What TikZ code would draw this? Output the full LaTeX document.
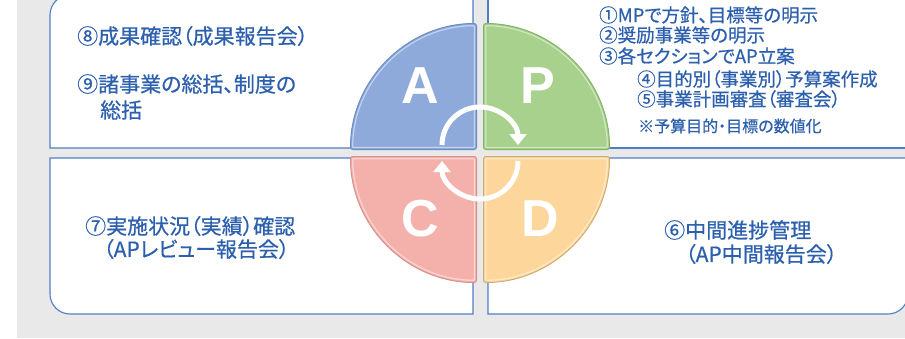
\documentclass[tikz,border=0pt]{standalone}
\usepackage{fontspec}
\newfontfamily\jpfont[RawFeature={+palt},FakeBold=0.6]{Noto Sans CJK JP}
\newfontfamily\latfont{Liberation Sans}
\usetikzlibrary{arrows.meta}
\definecolor{bgc}{HTML}{E9E9E9}
\definecolor{boxline}{HTML}{4F7EC6}
\definecolor{txt}{HTML}{2C60AE}
\definecolor{qA}{HTML}{8EAADB}\definecolor{qAd}{HTML}{6C8CC4}
\definecolor{qP}{HTML}{A8D18D}\definecolor{qPd}{HTML}{86B466}
\definecolor{qC}{HTML}{F4B1AC}\definecolor{qCd}{HTML}{D8918C}
\definecolor{qD}{HTML}{FCD69B}\definecolor{qDd}{HTML}{D2AC70}
\newcommand\myquad[3]{%
  \fill[#2,rounded corners=2.5pt] #1;
  \begin{scope}
    \clip[rounded corners=2.5pt] #1;
    \draw[#2!50!white,line width=5.5pt,rounded corners=2.5pt] #1;
    \draw[#2,line width=3pt,rounded corners=2.5pt] #1;
  \end{scope}
  \draw[#3,line width=1pt,rounded corners=2.5pt] #1;
}
\begin{document}
\begin{tikzpicture}[x=1pt,y=-1pt,
  panel/.style={draw=boxline,line width=1.1pt,fill=white},
  jtext/.style={anchor=west,inner sep=0pt,text=txt,font=\jpfont\fontsize{21}{25}\selectfont},
  jtr/.style={anchor=west,inner sep=0pt,text=txt,font=\jpfont\fontsize{18.5}{22}\selectfont},
  jnote/.style={anchor=west,inner sep=0pt,text=txt,font=\jpfont\fontsize{16}{19}\selectfont},
  letter/.style={text=white,inner sep=0pt,font=\latfont\bfseries\fontsize{52}{60}\selectfont},
  cyc/.style={draw=white,line width=5pt,-{Triangle[width=17pt,length=11pt]}}
]
\useasboundingbox (0,0) rectangle (905,338);
\clip (0,0) rectangle (905,338);
\fill[bgc] (17,0) rectangle (905,338);
% panels
\draw[panel] (473,148) -- (50,148) -- (50,15) arc[start angle=180,end angle=270,radius=20] -- (473,-5) -- cycle;
\draw[panel] (488,148) -- (488,-5) -- (910,-5) -- (910,148) -- cycle;
\draw[panel] (473,158) -- (50,158) -- (50,294) arc[start angle=180,end angle=90,radius=20] -- (473,314) -- cycle;
\draw[panel] (488,158) -- (488,314) -- (888,314) arc[start angle=90,end angle=0,radius=20] -- (908,158) -- cycle;
% quadrants
\myquad{(476.5,149.5) -- (350.5,149.5) arc[start angle=180,end angle=270,radius=126] -- cycle}{qA}{qAd}
\myquad{(483.5,149.5) -- (483.5,23.5) arc[start angle=270,end angle=360,radius=126] -- cycle}{qP}{qPd}
\myquad{(483.5,156.5) -- (609.5,156.5) arc[start angle=0,end angle=90,radius=126] -- cycle}{qD}{qDd}
\myquad{(476.5,156.5) -- (476.5,282.5) arc[start angle=90,end angle=180,radius=126] -- cycle}{qC}{qCd}
% letters
\node[letter] (lA) at (420,86) {A};
\node[letter] (lP) at (538,86) {P};
\node[letter] (lC) at (420,219) {C};
\node[letter] (lD) at (540,219) {D};
% cycle arrows
\coordinate (u0) at (442,145);
\coordinate (d0) at (518,161);
\draw[cyc] (u0) arc[start angle=180,end angle=360,radius=38];
\draw[cyc] (d0) arc[start angle=0,end angle=180,radius=38];
% texts
\node[jtext] (t8) at (77,36) {⑧成果確認（成果報告会）};
\node[jtext] (t9) at (77,84) {⑨諸事業の総括、制度の};
\node[jtext] (t9b) at (100,110) {総括};
\node[jtr] (t1) at (599,15) {①MPで方針、目標等の明示};
\node[jtr] (t2) at (599,35) {②奨励事業等の明示};
\node[jtr] (t3) at (599,56) {③各セクションでAP立案};
\node[jtr] (t4) at (637,79) {④目的別（事業別）予算案作成};
\node[jtr] (t5) at (637,99) {⑤事業計画審査（審査会）};
\node[jnote] (tn) at (638,126) {※予算目的・目標の数値化};
\node[jtext] (t7) at (85,226) {⑦実施状況（実績）確認};
\node[jtext] (t7b) at (103,249) {（APレビュー報告会）};
\node[jtext] (t6) at (664,230) {⑥中間進捗管理};
\node[jtext] (t6b) at (685,254) {（AP中間報告会）};
\end{tikzpicture}
\end{document}
